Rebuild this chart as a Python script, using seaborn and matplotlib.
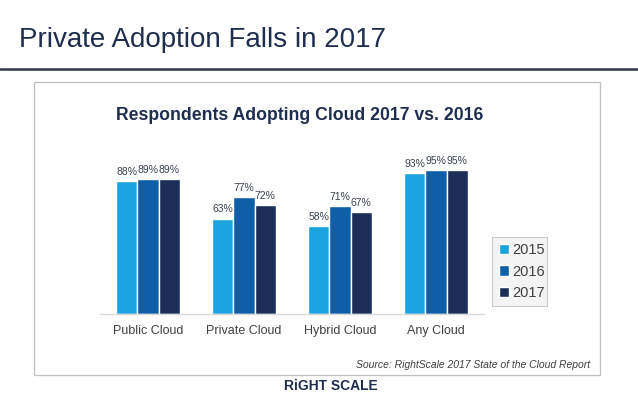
import matplotlib
matplotlib.use("Agg")
import matplotlib.pyplot as plt
import seaborn as sns
import pandas as pd
from matplotlib.patches import Rectangle
from matplotlib.lines import Line2D

categories = ["Public Cloud", "Private Cloud", "Hybrid Cloud", "Any Cloud"]
years = ["2015", "2016", "2017"]
values_2015 = [88, 63, 58, 93]
values_2016 = [89, 77, 71, 95]
values_2017 = [89, 72, 67, 95]
colors = ["#1AA3DD", "#0E5FA8", "#1C2E58"]

rows = []
for y, vals in zip(years, [values_2015, values_2016, values_2017]):
    for c, v in zip(categories, vals):
        rows.append({"category": c, "year": y, "value": v})
df = pd.DataFrame(rows)

sns.set_theme(style="white")
plt.rcParams['font.family'] = ['Liberation Sans', 'DejaVu Sans']

fig = plt.figure(figsize=(6.38, 3.99), dpi=100)
W, H = 638, 399

def fx(x): return x / W
def fy(y): return 1 - y / H

# header
fig.text(fx(19), fy(47), "Private Adoption Falls in 2017", fontsize=20,
         color="#1F2D4F", ha="left", va="baseline")
fig.add_artist(Line2D([0, 1], [fy(69), fy(69)], color="#2E3848", lw=1.8,
                      transform=fig.transFigure))
# chart box
fig.add_artist(Rectangle((fx(34), fy(375)), fx(600 - 34), (375 - 82) / H,
                         fill=False, edgecolor="#BFBFBF", lw=0.9,
                         transform=fig.transFigure))

ax = fig.add_axes([fx(100), fy(314), fx(484 - 100), (314 - 162.5) / H])
sns.barplot(data=df, x="category", y="value", hue="year", palette=colors,
            width=0.66, dodge=True, ax=ax, saturation=1, legend=True)
ax.set_ylim(0, 100)
ax.set_xlim(-0.5, 3.5)
ax.set_xlabel("")
ax.set_ylabel("")
ax.set_yticks([])
for s in ["top", "right", "left"]:
    ax.spines[s].set_visible(False)
ax.spines["bottom"].set_color("#D9D9D9")
ax.spines["bottom"].set_linewidth(1)
ax.tick_params(axis="x", length=0, pad=8, labelsize=9, labelcolor="#404040")
for cont in ax.containers:
    ax.bar_label(cont, labels=[f"{int(v)}%" for v in cont.datavalues],
                 padding=3, fontsize=7.5, color="#3A4250")

fig.text(fx(300), fy(115), "Respondents Adopting Cloud 2017 vs. 2016",
         fontsize=12.7, fontweight="bold", color="#1F2D4F",
         ha="center", va="center")

leg = ax.legend(loc="center left", bbox_to_anchor=(fx(492), fy(306), fx(55), (306 - 237) / H),
                bbox_transform=fig.transFigure, mode="expand", frameon=True,
                fontsize=10.5, handlelength=0.7, handleheight=0.7, handletextpad=0.25,
                labelspacing=0.5, borderpad=0.45, borderaxespad=0, fancybox=False, title=None)
leg.get_frame().set_facecolor("#F2F2F2")
leg.get_frame().set_edgecolor("#BFBFBF")
leg.get_frame().set_linewidth(0.8)
for t in leg.get_texts():
    t.set_color("#404040")

fig.text(fx(590), fy(365), "Source: RightScale 2017 State of the Cloud Report",
         fontsize=7.5, style="italic", color="#404040", ha="right", va="center")
fig.text(fx(331), fy(386), "RiGHT SCALE", fontsize=10, fontweight="bold",
         color="#1F2D4F", ha="center", va="center")

fig.savefig("out.png", dpi=100)
